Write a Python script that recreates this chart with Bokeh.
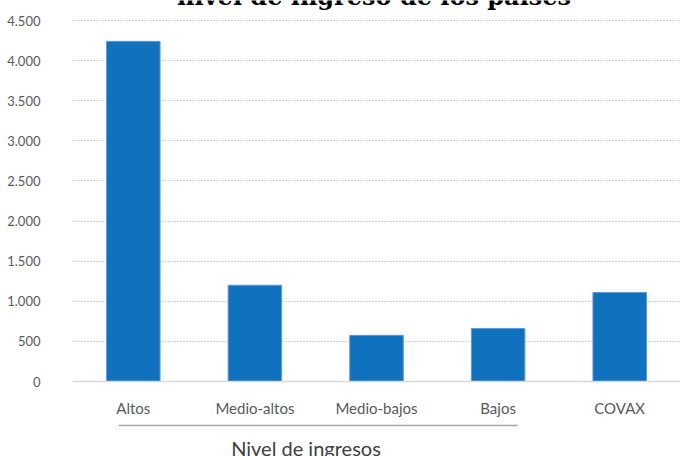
from bokeh.plotting import figure
from bokeh.models import Range1d, FixedTicker
from bokeh.core.properties import value
from bokeh.embed import file_html
from bokeh.resources import INLINE

categories = ["Altos", "Medio-altos", "Medio-bajos", "Bajos", "COVAX"]
values = [4240, 1200, 575, 660, 1110]
y_ticks = [0, 500, 1000, 1500, 2000, 2500, 3000, 3500, 4000, 4500]
y_tick_labels = ["0", "500", "1.000", "1.500", "2.000", "2.500", "3.000", "3.500", "4.000", "4.500"]
title_text = "nivel de ingreso de los países"
group_label = "Nivel de ingresos"
group_members = ["Altos", "Medio-altos", "Medio-bajos", "Bajos"]

# frame spans the whole window height; y=0 at 381px, 4500 at 20px
px = 4500 / 361.0
y_top = 4500 + 20 * px
y_bottom = -(456 - 381) * px

p = figure(x_range=categories, y_range=Range1d(y_bottom, y_top),
           frame_width=608, frame_height=456, output_backend="svg", toolbar_location=None,
           min_border_left=72, min_border_right=0, min_border_top=0, min_border_bottom=0)

p.vbar(x=categories, top=values, width=0.44, fill_color="#1071BE",
       line_color="#5B9BD5", line_width=1)

p.outline_line_color = None
p.xgrid.grid_line_color = None
p.ygrid.grid_line_color = "#a8a8a8"
p.ygrid.grid_line_dash = "1 2"
p.ygrid.grid_line_width = 1

p.yaxis.ticker = FixedTicker(ticks=y_ticks)
p.yaxis.major_label_overrides = {t: l for t, l in zip(y_ticks, y_tick_labels)}
p.yaxis.axis_line_color = None
p.yaxis.major_tick_line_color = None
p.yaxis.minor_tick_line_color = None
p.yaxis.major_tick_out = 0
p.yaxis.major_label_standoff = 32
p.yaxis.major_label_text_font = "Lato"
p.yaxis.major_label_text_font_size = "13px"
p.yaxis.major_label_text_color = "#595959"

p.xaxis.fixed_location = 0
p.xaxis.axis_line_color = "#d9d9d9"
p.xaxis.axis_line_width = 1.5
p.xaxis.major_tick_line_color = None
p.xaxis.major_tick_out = 0
p.xaxis.major_label_standoff = 17
p.xaxis.major_label_text_font = "Lato"
p.xaxis.major_label_text_font_size = "15px"
p.xaxis.major_label_text_color = "#595959"

# group bracket line under the income-level categories
n_group = len(group_members)
p.segment(x0=[0.38], y0=[-44 * px], x1=[n_group - 0.34], y1=[-44 * px],
          line_color="#a6a6a6", line_width=1.5)
p.text(x=[1.92], y=[-66 * px], text=[group_label], text_align="center",
       text_baseline="alphabetic", text_font=value("Lato"), text_font_size="20px",
       text_color="#404040")

p.text(x=[2.48], y=[4500 + 24 * px], text=[title_text], text_align="center",
       text_baseline="alphabetic", text_font=value("DejaVu Serif"),
       text_font_style="bold", text_font_size="24px", text_color="#000000")

open("out.html", "w").write(file_html(p, INLINE))
